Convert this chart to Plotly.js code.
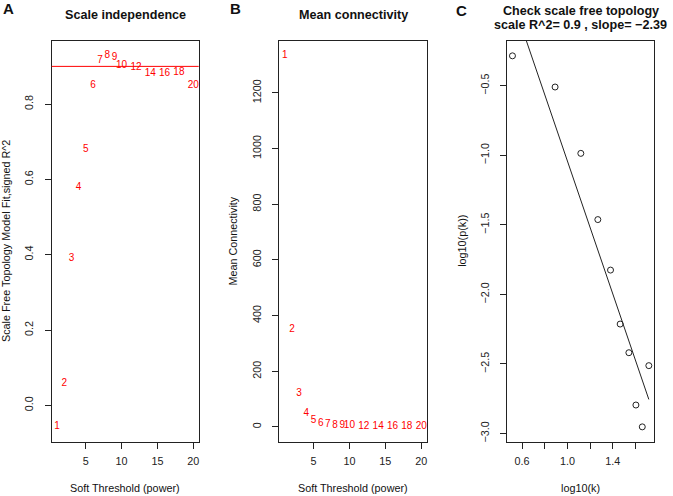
<!DOCTYPE html>
<html><head><meta charset="utf-8">
<script src="https://cdn.plot.ly/plotly-3.0.1.min.js"></script>
<style>html,body{margin:0;padding:0;background:#fff;}#chart{width:673px;height:496px;}</style>
</head><body><div id="chart"></div>
<script>
// ---- data ----
const powers = [1,2,3,4,5,6,7,8,9,10,12,14,16,18,20];
const sftR2 = [-0.057,0.058,0.390,0.579,0.680,0.850,0.916,0.928,0.923,0.902,0.897,0.880,0.880,0.885,0.849];
const meanK = [1333,351,121,50,23,13,8,6,4.5,3.5,2,1.2,0.8,0.5,0.3];
const cutoffR2 = 0.9;
const logK = [0.515,0.891,1.118,1.268,1.380,1.465,1.542,1.604,1.660,1.718];
const logPk = [-0.285,-0.509,-0.986,-1.462,-1.825,-2.213,-2.419,-2.795,-2.952,-2.512];
const xTicksA = [5,10,15,20];
const yTicksA = [0.0,0.2,0.4,0.6,0.8];
const yTicksB = [0,200,400,600,800,1000,1200];
const xTicksC = [0.6,0.8,1.0,1.2,1.4,1.6];
const xTickTextC = ['0.6','','1.0','','1.4',''];
const yTicksC = [-3.0,-2.5,-2.0,-1.5,-1.0,-0.5];

// ---- helpers ----
const W = 673, H = 496;
const px = v => v / W;
const py = v => 1 - v / H;
function rRange(a){ const mn=Math.min(...a), mx=Math.max(...a), d=(mx-mn)*0.04; return [mn-d, mx+d]; }
// least squares fit of log10(p(k)) on log10(k)
const n = logK.length;
const mx = logK.reduce((s,v)=>s+v,0)/n, my = logPk.reduce((s,v)=>s+v,0)/n;
let sxy=0, sxx=0;
for(let i=0;i<n;i++){ sxy+=(logK[i]-mx)*(logPk[i]-my); sxx+=(logK[i]-mx)**2; }
const slope = sxy/sxx, intercept = my - slope*mx;
const fitY = logK.map(x => intercept + slope*x);

const FONT = 'Liberation Sans, Arial, Helvetica, sans-serif';
const AX = {showline:true, mirror:true, linecolor:'#222', linewidth:1, ticks:'outside', ticklen:6,
  tickcolor:'#222', tickwidth:1, showgrid:false, zeroline:false, automargin:false, fixedrange:true,
  tickfont:{family:FONT, size:10.8, color:'#222'}};
const XAX = Object.assign({}, AX, {ticklabelstandoff:3});
const YAX = Object.assign({}, AX, {ticklabelstandoff:7, tickangle:-90});
const yDom = [py(441.7), py(41)];

const traces = [
  {x:powers, y:sftR2, text:powers.map(String), mode:'text', type:'scatter', xaxis:'x', yaxis:'y',
   textfont:{family:FONT, size:10, color:'#ff0000'}, textposition:'middle center', hoverinfo:'skip', cliponaxis:false},
  {x:powers, y:meanK, text:powers.map(String), mode:'text', type:'scatter', xaxis:'x2', yaxis:'y2',
   textfont:{family:FONT, size:10, color:'#ff0000'}, textposition:'middle center', hoverinfo:'skip', cliponaxis:false},
  {x:logK, y:logPk, mode:'markers', type:'scatter', xaxis:'x3', yaxis:'y3',
   marker:{symbol:'circle-open', size:6, color:'#222', line:{width:1, color:'#222'}}, hoverinfo:'skip'},
  {x:[logK[0], logK[n-1]], y:[fitY[0], fitY[n-1]], mode:'lines', type:'scatter', xaxis:'x3', yaxis:'y3',
   line:{color:'#222', width:1}, hoverinfo:'skip'}
];

function ann(text, x, y, size, bold, extra){
  return Object.assign({text: bold ? '<b>'+text+'</b>' : text, x:px(x), y:py(y), xref:'paper', yref:'paper',
    showarrow:false, xanchor:'center', yanchor:'middle', font:{family:FONT, size:size, color:'#111'}}, extra||{});
}

const layout = {
  width:W, height:H, margin:{l:0,r:0,t:0,b:0}, paper_bgcolor:'#fff', plot_bgcolor:'#fff', showlegend:false,
  font:{family:FONT},
  xaxis: Object.assign({}, XAX, {domain:[px(51.7), px(198.7)], range:rRange(powers), tickvals:xTicksA, anchor:'y'}),
  yaxis: Object.assign({}, YAX, {domain:yDom, range:rRange(sftR2), tickvals:yTicksA, tickformat:'.1f', anchor:'x'}),
  xaxis2: Object.assign({}, XAX, {domain:[px(279.3), px(426.7)], range:rRange(powers), tickvals:xTicksA, anchor:'y2'}),
  yaxis2: Object.assign({}, YAX, {domain:yDom, range:rRange(meanK), tickvals:yTicksB, anchor:'x2'}),
  xaxis3: Object.assign({}, XAX, {domain:[px(507), px(654.3)], range:rRange(logK), tickvals:xTicksC, ticktext:xTickTextC, anchor:'y3'}),
  yaxis3: Object.assign({}, YAX, {domain:yDom, range:rRange(logPk), tickvals:yTicksC, tickformat:'.1f', anchor:'x3'}),
  shapes:[{type:'line', xref:'x domain', x0:0, x1:1, yref:'y', y0:cutoffR2, y1:cutoffR2, line:{color:'#ff0000', width:1}}],
  annotations:[
    ann('A', 8, 8.5, 15, true),
    ann('B', 235.5, 8.5, 15, true),
    ann('C', 461.7, 10.5, 15, true),
    ann('Scale independence', 125.2, 15, 12.6, true),
    ann('Mean connectivity', 353, 15, 12.6, true),
    ann('Check scale free topology', 580.7, 11, 12.6, true),
    ann('scale R^2= 0.9 , slope= \u22122.39', 580.7, 25, 12.6, true),
    ann('Soft Threshold (power)', 125.2, 487.7, 10.8, false),
    ann('Soft Threshold (power)', 353, 487.7, 10.8, false),
    ann('log10(k)', 580.7, 487.7, 10.8, false),
    ann('Scale Free Topology Model Fit,signed R^2', 6.7, 241.3, 10.8, false, {textangle:-90}),
    ann('Mean Connectivity', 233.3, 241.3, 10.8, false, {textangle:-90}),
    ann('log10(p(k))', 462.5, 241.3, 10.8, false, {textangle:-90})
  ]
};
Plotly.newPlot('chart', traces, layout, {displayModeBar:false, staticPlot:true});
</script></body></html>
